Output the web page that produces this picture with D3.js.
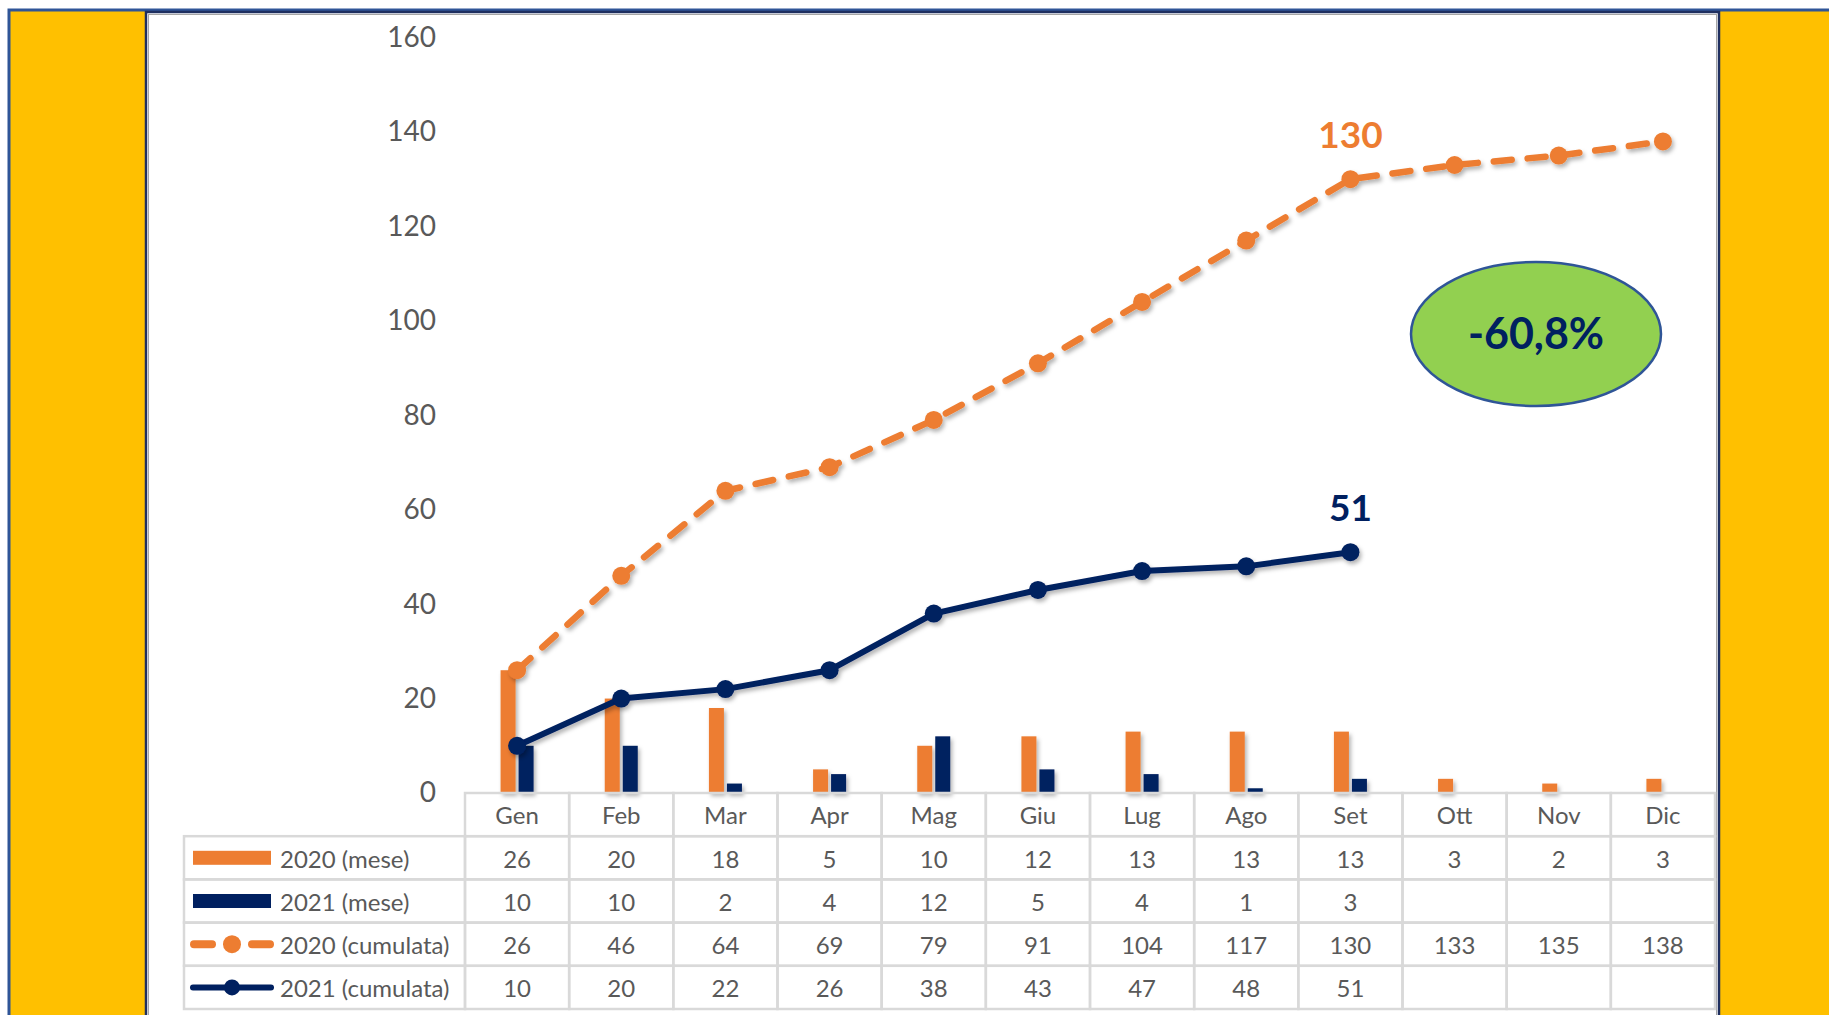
<!DOCTYPE html>
<html lang="it">
<head>
<meta charset="UTF-8">
<title>Cumulata 2020 - 2021</title>
<script src="https://cdn.jsdelivr.net/npm/d3@7/dist/d3.min.js"></script>
<style>
  body { margin: 0; background: #fff; }
  svg { display: block; font-family: Lato, "Open Sans", sans-serif; }
</style>
</head>
<body>
<svg width="1829" height="1015"></svg>
<script>
// data
var months = ["Gen", "Feb", "Mar", "Apr", "Mag", "Giu", "Lug", "Ago", "Set", "Ott", "Nov", "Dic"];
var mese2020 = [26, 20, 18, 5, 10, 12, 13, 13, 13, 3, 2, 3];
var mese2021 = [10, 10, 2, 4, 12, 5, 4, 1, 3];
var cumulata2020 = [26, 46, 64, 69, 79, 91, 104, 117, 130, 133, 135, 138];
var cumulata2021 = [10, 20, 22, 26, 38, 43, 47, 48, 51];
var yTicks = [0, 20, 40, 60, 80, 100, 120, 140, 160];
var seriesNames = ["2020 (mese)", "2021 (mese)", "2020 (cumulata)", "2021 (cumulata)"];
var deltaLabel = "-60,8%";

var orange = "#ED7D31", navy = "#002060", grey = "#595959", gridCol = "#D9D9D9";

var svg = d3.select("svg");

var defs = svg.append("defs");
var f = defs.append("filter").attr("id", "shadow")
    .attr("x", "-20%").attr("y", "-20%").attr("width", "140%").attr("height", "140%");
f.append("feDropShadow").attr("dx", 2).attr("dy", 3).attr("stdDeviation", 2)
    .attr("flood-color", "#000").attr("flood-opacity", 0.3);

// background frame
svg.append("rect").attr("x", 9).attr("y", 10).attr("width", 1840).attr("height", 1020)
    .attr("fill", "#FFC000").attr("stroke", "#2F5597").attr("stroke-width", 3);
svg.append("rect").attr("x", 146).attr("y", 12).attr("width", 1573).attr("height", 1020)
    .attr("fill", "#fff").attr("stroke", "#1F2F5F").attr("stroke-width", 2.5);
svg.append("rect").attr("x", 148.5).attr("y", 14.5).attr("width", 1568).attr("height", 1020)
    .attr("fill", "none").attr("stroke", "#A6A6A6").attr("stroke-width", 1);

var plotL = 465, plotR = 1715, plotT = 37.5, plotB = 793;
var rowH = 43.2, legendLeft = 184;

var x = d3.scaleBand().domain(months).range([plotL, plotR]);
var y = d3.scaleLinear().domain([0, 160]).range([plotB, plotT]);
var cx = function(d, i) { return x(months[i]) + x.bandwidth() / 2; };

// y axis (labels only)
var yAxis = svg.append("g").attr("transform", "translate(436,0)")
    .call(d3.axisLeft(y).tickValues(yTicks).tickSize(0).tickPadding(0));
yAxis.select(".domain").remove();
yAxis.selectAll("text").attr("fill", grey).style("font-size", "28px")
    .style("font-family", "Lato, sans-serif");

// bars
var barW = 15;
var bars = svg.append("g").attr("filter", "url(#shadow)");
bars.selectAll(".b20").data(mese2020).enter().append("rect")
    .attr("x", function(d, i) { return cx(d, i) - barW - 1.5; })
    .attr("y", function(d) { return y(d); })
    .attr("width", barW)
    .attr("height", function(d) { return y(0) - y(d); })
    .attr("fill", orange);
bars.selectAll(".b21").data(mese2021).enter().append("rect")
    .attr("x", function(d, i) { return cx(d, i) + 1.5; })
    .attr("y", function(d) { return y(d); })
    .attr("width", barW)
    .attr("height", function(d) { return y(0) - y(d); })
    .attr("fill", navy);

// lines
var line = d3.line().x(cx).y(function(d) { return y(d); });

var g20 = svg.append("g").attr("filter", "url(#shadow)");
g20.append("path").datum(cumulata2020).attr("d", line)
    .attr("fill", "none").attr("stroke", orange).attr("stroke-width", 6.5)
    .attr("stroke-dasharray", "18,16").attr("stroke-linecap", "round");
g20.selectAll("circle").data(cumulata2020).enter().append("circle")
    .attr("cx", cx).attr("cy", function(d) { return y(d); })
    .attr("r", 9).attr("fill", orange);

var g21 = svg.append("g").attr("filter", "url(#shadow)");
g21.append("path").datum(cumulata2021).attr("d", line)
    .attr("fill", "none").attr("stroke", navy).attr("stroke-width", 6)
    .attr("stroke-linejoin", "round");
g21.selectAll("circle").data(cumulata2021).enter().append("circle")
    .attr("cx", cx).attr("cy", function(d) { return y(d); })
    .attr("r", 9).attr("fill", navy);

// labels on the last 2021 month
var lastI = cumulata2021.length - 1;
svg.append("text")
    .attr("x", cx(0, lastI))
    .attr("y", y(cumulata2020[lastI]) - 31)
    .attr("text-anchor", "middle").attr("fill", orange)
    .style("font-size", "37px").style("font-weight", "bold")
    .text(cumulata2020[lastI]);
svg.append("text")
    .attr("x", cx(0, lastI))
    .attr("y", y(cumulata2021[lastI]) - 31)
    .attr("text-anchor", "middle").attr("fill", navy)
    .style("font-size", "37px").style("font-weight", "bold")
    .text(cumulata2021[lastI]);

// ellipse
svg.append("ellipse").attr("cx", 1536).attr("cy", 334).attr("rx", 125).attr("ry", 72)
    .attr("fill", "#92D050").attr("stroke", "#2F5597").attr("stroke-width", 2.5);
svg.append("text").attr("x", 1536).attr("y", 349).attr("text-anchor", "middle")
    .attr("fill", navy).style("font-size", "43px").style("font-weight", "bold")
    .text(deltaLabel);

// data table
var table = svg.append("g");
var rows = [mese2020, mese2021, cumulata2020, cumulata2021];

// header row
months.forEach(function(m) {
    table.append("rect").attr("x", x(m)).attr("y", plotB)
        .attr("width", x.bandwidth()).attr("height", rowH)
        .attr("fill", "none").attr("stroke", gridCol).attr("stroke-width", 2.5);
    table.append("text").attr("x", x(m) + x.bandwidth() / 2).attr("y", plotB + rowH / 2 + 9)
        .attr("text-anchor", "middle").attr("fill", grey).style("font-size", "24px").text(m);
});

rows.forEach(function(r, ri) {
    var ry = plotB + rowH * (ri + 1);
    table.append("rect").attr("x", legendLeft).attr("y", ry)
        .attr("width", plotL - legendLeft).attr("height", rowH)
        .attr("fill", "none").attr("stroke", gridCol).attr("stroke-width", 2.5);
    table.append("text").attr("x", 280).attr("y", ry + rowH / 2 + 10)
        .attr("fill", grey).style("font-size", "24px").text(seriesNames[ri]);
    months.forEach(function(m, i) {
        table.append("rect").attr("x", x(m)).attr("y", ry)
            .attr("width", x.bandwidth()).attr("height", rowH)
            .attr("fill", "none").attr("stroke", gridCol).attr("stroke-width", 2.5);
        if (r[i] !== undefined) {
            table.append("text").attr("x", x(m) + x.bandwidth() / 2).attr("y", ry + rowH / 2 + 10)
                .attr("text-anchor", "middle").attr("fill", grey).style("font-size", "24px")
                .text(r[i]);
        }
    });
});

// legend keys
var ky = function(ri) { return plotB + rowH * (ri + 1) + rowH / 2; };
table.append("rect").attr("x", 193).attr("y", ky(0) - 7).attr("width", 78).attr("height", 14).attr("fill", orange);
table.append("rect").attr("x", 193).attr("y", ky(1) - 7).attr("width", 78).attr("height", 14).attr("fill", navy);
[[194, 212], [252, 270]].forEach(function(s) {
    table.append("line").attr("x1", s[0]).attr("x2", s[1]).attr("y1", ky(2)).attr("y2", ky(2))
        .attr("stroke", orange).attr("stroke-width", 8).attr("stroke-linecap", "round");
});
table.append("circle").attr("cx", 232).attr("cy", ky(2)).attr("r", 9).attr("fill", orange);
table.append("line").attr("x1", 193).attr("x2", 271).attr("y1", ky(3)).attr("y2", ky(3))
    .attr("stroke", navy).attr("stroke-width", 6).attr("stroke-linecap", "round");
table.append("circle").attr("cx", 232).attr("cy", ky(3)).attr("r", 8).attr("fill", navy);
</script>
</body>
</html>
